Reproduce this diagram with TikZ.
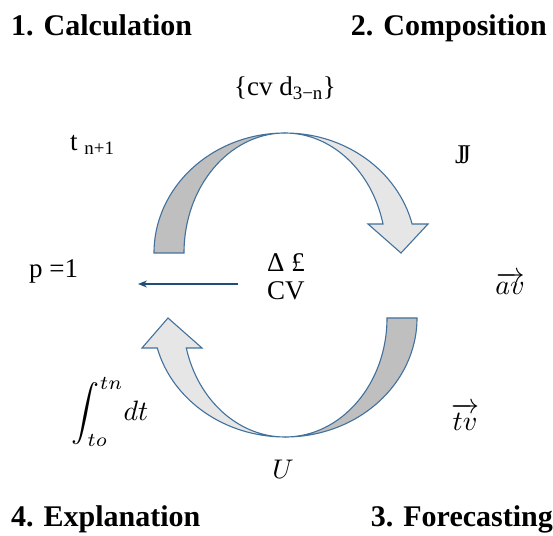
\documentclass[tikz,border=0pt]{standalone}
\usepackage{amsmath}
\usepackage{graphicx}
\usepackage{fontspec}
\setmainfont{Liberation Serif}
\usetikzlibrary{arrows.meta}
\definecolor{edgeblue}{HTML}{41719C}
\definecolor{darkband}{HTML}{BFBFBF}
\definecolor{lightband}{HTML}{E7E6E6}
\definecolor{navyarrow}{HTML}{1F4E79}
\begin{document}
\begin{tikzpicture}[x=1pt,y=1pt,
  title/.style={font=\fontsize{30}{34}\selectfont\bfseries, inner sep=0pt},
  lbl/.style={font=\fontsize{27}{30}\selectfont, inner sep=0pt},
  mth/.style={font=\normalsize, inner sep=0pt},
  band/.style={draw=edgeblue, line width=1.1pt, line join=miter}]
\useasboundingbox (0,0) rectangle (553,535);
% titles
\node[title, anchor=base west] (t1) at (11,499) {1. Calculation};
\node[title, anchor=base east] (t2) at (547,499) {2. Composition};
\node[title, anchor=base west] (t4) at (11,9) {4. Explanation};
\node[title, anchor=base east] (t3) at (553,9) {3. Forecasting};
% upper curved arrow (center 285,282)
\draw[band, fill=darkband] (154,282) arc[start angle=180,end angle=90,x radius=131,y radius=120]
  arc[start angle=90,end angle=180,x radius=101,y radius=120] -- cycle;
\draw[band, fill=lightband] (285,402) arc[start angle=90,end angle=14,x radius=131,y radius=120]
  -- (428,311) -- (401,282) -- (368,311) -- (383,311)
  arc[start angle=14,end angle=90,x radius=101,y radius=120] -- cycle;
% lower curved arrow (center 285,217)
\draw[band, fill=darkband] (417,217) arc[start angle=0,end angle=-90,x radius=132,y radius=119]
  arc[start angle=-90,end angle=0,x radius=102,y radius=119] -- cycle;
\draw[band, fill=lightband] (285,98) arc[start angle=270,end angle=194.6,x radius=132,y radius=119]
  -- (142,187) -- (168,217) -- (202,187) -- (186.3,187)
  arc[start angle=194.6,end angle=270,x radius=102,y radius=119] -- cycle;
% labels
\node[lbl] (cv) at (285,447) {\{cv d\textsubscript{3\textminus n}\}};
\node[lbl, anchor=base west] (tn) at (70,384) {t \textsubscript{n+1}};
\node[lbl] (jj) at (463,380) {J\kern-0.2em J};
\node[lbl, anchor=base west] (p1) at (29,257) {p =1};
\node[lbl, anchor=base west] (dl) at (267,263) {Δ £};
\node[lbl, anchor=base west] (cvv) at (267,235) {CV};
\node[mth] (av) at (510,252) {\scalebox{2.8}{$\overrightarrow{av}$}};
\node[mth] (tv) at (465,118) {\scalebox{2.8}{$\overrightarrow{tv}$}};
\node[mth] (int) at (110,123) {\scalebox{2.8}{$\displaystyle\int_{to}^{tn}\!dt$}};
\node[mth] (u) at (283,66) {\scalebox{2.7}{$U$}};
% blue arrow
\coordinate (bs) at (238,251);
\coordinate (be) at (138,251);
\draw[navyarrow, line width=1.3pt, -{Stealth[length=9pt,width=7pt]}] (bs) -- (be);
\end{tikzpicture}
\end{document}
